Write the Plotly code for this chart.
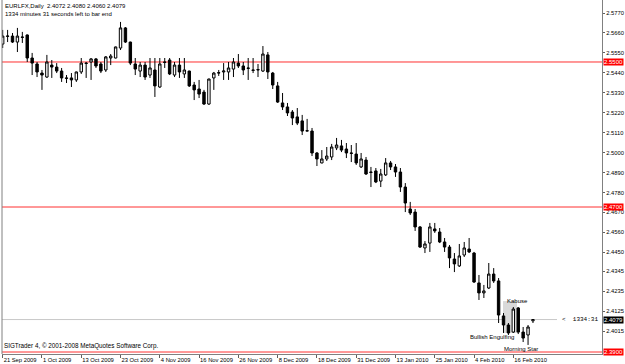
import plotly.graph_objects as go
import pandas as pd

# ---- data ----
symbol_line = "EURLFX,Daily  2.4072 2.4080 2.4060 2.4079"
timer_line = "1334 minutes 31 seconds left to bar end"
copyright_line = "SIGTrader 4, \u00a9 2001-2008 MetaQuotes Software Corp."

holidays = ["2009-12-25", "2010-01-01"]
dates = [d for d in pd.bdate_range("2009-09-21", "2010-02-22") if d.strftime("%Y-%m-%d") not in holidays]
date_keys = [d.strftime("%Y-%m-%d") for d in dates]

opens = [2.5599, 2.5641, 2.5643, 2.5610, 2.5638, 2.5649, 2.5522, 2.5489, 2.5439, 2.5417,
         2.5483, 2.5472, 2.5450, 2.5412, 2.5412, 2.5401, 2.5445, 2.5494, 2.5500, 2.5517,
         2.5489, 2.5456, 2.5522, 2.5522, 2.5577, 2.5688, 2.5610, 2.5489, 2.5450, 2.5483,
         2.5428, 2.5456, 2.5362, 2.5500, 2.5511, 2.5428, 2.5483, 2.5434, 2.5450, 2.5373,
         2.5351, 2.5334, 2.5268, 2.5412, 2.5439, 2.5445, 2.5445, 2.5461, 2.5494, 2.5478,
         2.5467, 2.5456, 2.5456, 2.5450, 2.5539, 2.5439, 2.5368, 2.5274, 2.5252, 2.5224,
         2.5197, 2.5175, 2.5119, 2.5119, 2.4998, 2.4943, 2.4965, 2.4976, 2.5026, 2.5037,
         2.5020, 2.4998, 2.4992, 2.4921, 2.4959, 2.4893, 2.4899, 2.4843, 2.4877, 2.4943,
         2.4921, 2.4893, 2.4810, 2.4689, 2.4672, 2.4590, 2.4474, 2.4501, 2.4579, 2.4562,
         2.4507, 2.4479, 2.4413, 2.4375, 2.4435, 2.4468, 2.4446, 2.4281, 2.4226, 2.4253,
         2.4330, 2.4292, 2.4099, 2.4049, 2.4010, 2.4143, 2.4010, 2.3994, 2.4072]
highs = [2.5677, 2.5677, 2.5660, 2.5688, 2.5666, 2.5652, 2.5550, 2.5500, 2.5456, 2.5539,
         2.5511, 2.5494, 2.5467, 2.5428, 2.5439, 2.5447, 2.5522, 2.5500, 2.5522, 2.5522,
         2.5500, 2.5533, 2.5544, 2.5585, 2.5721, 2.5693, 2.5612, 2.5522, 2.5500, 2.5500,
         2.5522, 2.5522, 2.5522, 2.5522, 2.5522, 2.5500, 2.5522, 2.5522, 2.5452, 2.5390,
         2.5401, 2.5346, 2.5408, 2.5445, 2.5456, 2.5494, 2.5500, 2.5522, 2.5544, 2.5500,
         2.5522, 2.5522, 2.5489, 2.5588, 2.5555, 2.5445, 2.5390, 2.5329, 2.5274, 2.5235,
         2.5246, 2.5208, 2.5186, 2.5136, 2.5003, 2.5014, 2.5031, 2.5048, 2.5081, 2.5070,
         2.5053, 2.5042, 2.5053, 2.4998, 2.4976, 2.4921, 2.4915, 2.4910, 2.4970, 2.4954,
         2.4937, 2.4915, 2.4832, 2.4728, 2.4689, 2.4595, 2.4512, 2.4612, 2.4612, 2.4584,
         2.4529, 2.4490, 2.4446, 2.4496, 2.4507, 2.4529, 2.4452, 2.4325, 2.4270, 2.4391,
         2.4363, 2.4308, 2.4115, 2.4060, 2.4148, 2.4148, 2.4038, 2.4049, 2.4080]
lows = [2.5577, 2.5610, 2.5605, 2.5555, 2.5605, 2.5500, 2.5428, 2.5417, 2.5346, 2.5412,
        2.5412, 2.5439, 2.5390, 2.5384, 2.5362, 2.5390, 2.5434, 2.5412, 2.5401, 2.5467,
        2.5439, 2.5445, 2.5483, 2.5520, 2.5566, 2.5605, 2.5483, 2.5428, 2.5417, 2.5401,
        2.5412, 2.5307, 2.5357, 2.5467, 2.5428, 2.5417, 2.5412, 2.5412, 2.5362, 2.5290,
        2.5301, 2.5263, 2.5263, 2.5346, 2.5423, 2.5401, 2.5401, 2.5417, 2.5467, 2.5428,
        2.5401, 2.5439, 2.5417, 2.5445, 2.5406, 2.5351, 2.5274, 2.5235, 2.5202, 2.5152,
        2.5152, 2.5097, 2.5117, 2.4981, 2.4926, 2.4941, 2.4954, 2.4959, 2.5014, 2.5003,
        2.4970, 2.4948, 2.4932, 2.4915, 2.4877, 2.4810, 2.4832, 2.4810, 2.4871, 2.4904,
        2.4866, 2.4783, 2.4672, 2.4656, 2.4568, 2.4474, 2.4446, 2.4452, 2.4557, 2.4501,
        2.4452, 2.4363, 2.4341, 2.4369, 2.4424, 2.4446, 2.4281, 2.4187, 2.4198, 2.4248,
        2.4281, 2.4060, 2.4005, 2.3994, 2.4005, 2.3999, 2.3955, 2.3939, 2.4060]
closes = [2.5643, 2.5643, 2.5610, 2.5643, 2.5636, 2.5522, 2.5494, 2.5445, 2.5428, 2.5500,
          2.5472, 2.5450, 2.5412, 2.5410, 2.5401, 2.5445, 2.5494, 2.5492, 2.5517, 2.5478,
          2.5450, 2.5528, 2.5533, 2.5583, 2.5688, 2.5610, 2.5494, 2.5461, 2.5483, 2.5417,
          2.5467, 2.5368, 2.5489, 2.5498, 2.5434, 2.5483, 2.5445, 2.5456, 2.5368, 2.5346,
          2.5323, 2.5268, 2.5406, 2.5439, 2.5441, 2.5450, 2.5467, 2.5500, 2.5478, 2.5456,
          2.5465, 2.5454, 2.5458, 2.5544, 2.5445, 2.5373, 2.5279, 2.5252, 2.5219, 2.5191,
          2.5163, 2.5119, 2.5121, 2.4998, 2.4965, 2.4965, 2.4981, 2.5031, 2.5042, 2.5014,
          2.4998, 2.4996, 2.4943, 2.4965, 2.4882, 2.4891, 2.4838, 2.4882, 2.4943, 2.4921,
          2.4893, 2.4810, 2.4722, 2.4667, 2.4590, 2.4479, 2.4496, 2.4590, 2.4568, 2.4507,
          2.4479, 2.4419, 2.4386, 2.4430, 2.4474, 2.4452, 2.4286, 2.4226, 2.4237, 2.4330,
          2.4292, 2.4104, 2.4049, 2.4005, 2.4137, 2.4010, 2.3977, 2.4038, 2.4079]

price_ticks = [2.5770, 2.5660, 2.5550, 2.5440, 2.5330, 2.5220, 2.5110, 2.5000, 2.4890,
               2.4780, 2.4670, 2.4560, 2.4450, 2.4345, 2.4235, 2.4125, 2.4015]
level_lines = [2.5500, 2.4700, 2.3900]
bid_price = 2.4079
bar_timer = "<  1334:31"

# pattern labels: (text, bar position, price)
patterns = [("Kabuse", 104.75, 2.4183),
            ("Bullish Engulfing", 99.66, 2.3983),
            ("Morning Star", 105.6, 2.3917)]
highlight = dict(x0=101.9, x1=104.75, y0=2.4005, y1=2.4181)

date_ticks = date_keys[::8]
date_ticktext = [f"{d.day} {d.strftime('%b %Y')}" for d in dates[::8]]

# ---- figure ----
W, H = 625, 364
ML, MR, MT, MB = 2, 23, 0, 10
FONT = "Liberation Sans"

fig = go.Figure()
fig.add_trace(go.Candlestick(
    x=date_keys, open=opens, high=highs, low=lows, close=closes,
    increasing=dict(line=dict(color="black", width=1), fillcolor="white"),
    decreasing=dict(line=dict(color="black", width=1), fillcolor="black"),
    whiskerwidth=0, hoverinfo="skip", showlegend=False,
))

shapes = []
shapes.append(dict(type="rect", xref="x", yref="y", layer="below",
                   x0=highlight["x0"], x1=highlight["x1"], y0=highlight["y0"], y1=highlight["y1"],
                   fillcolor="#d9d9d9", line=dict(width=0)))
for lv in level_lines:
    shapes.append(dict(type="line", xref="paper", yref="y", x0=0, x1=1, y0=lv, y1=lv,
                       line=dict(color="#ff3030", width=1), layer="below"))
shapes.append(dict(type="line", xref="paper", yref="y", x0=0, x1=0.925, y0=bid_price, y1=bid_price,
                   line=dict(color="#c8c8c8", width=1), layer="below"))
# left border
shapes.append(dict(type="line", xref="paper", yref="paper", x0=0, x1=0, y0=0, y1=1,
                   line=dict(color="#808080", width=1)))

annotations = []
annotations.append(dict(text=symbol_line, xref="paper", yref="paper", x=0.002, y=1.0,
                        xanchor="left", yanchor="top", yshift=-1, showarrow=False,
                        font=dict(family=FONT, size=6, color="black")))
annotations.append(dict(text=timer_line, xref="paper", yref="paper", x=0.002, y=1.0,
                        xanchor="left", yanchor="top", yshift=-9, showarrow=False,
                        font=dict(family=FONT, size=6, color="black")))
annotations.append(dict(text=copyright_line, xref="paper", yref="paper", x=0.0, y=0.0,
                        xanchor="left", yanchor="bottom", yshift=2, showarrow=False,
                        font=dict(family=FONT, size=6.3, color="black")))
for lv in level_lines:
    annotations.append(dict(text=f"{lv:.4f}", xref="paper", yref="y", x=1.0, y=lv,
                            xanchor="left", yanchor="middle", xshift=1, showarrow=False,
                            bgcolor="#ff0000", borderpad=0,
                            font=dict(family=FONT, size=6, color="white")))
annotations.append(dict(text=f"{bid_price:.4f}", xref="paper", yref="y", x=1.0, y=bid_price,
                        xanchor="left", yanchor="middle", xshift=1, showarrow=False,
                        bgcolor="black", borderpad=0,
                        font=dict(family=FONT, size=6, color="white")))
annotations.append(dict(text=bar_timer, xref="paper", yref="y", x=0.93, y=bid_price,
                        xanchor="left", yanchor="middle", showarrow=False,
                        font=dict(family="Liberation Mono", size=6, color="black")))
for txt, xp, yp in patterns:
    annotations.append(dict(text=txt, xref="x", yref="y", x=xp, y=yp,
                            xanchor="center", yanchor="middle", showarrow=False,
                            font=dict(family=FONT, size=6, color="black")))

fig.update_layout(
    width=W, height=H, margin=dict(l=ML, r=MR, t=MT, b=MB, autoexpand=False),
    paper_bgcolor="white", plot_bgcolor="white",
    shapes=shapes, annotations=annotations,
    font=dict(family=FONT, size=6, color="black"),
    xaxis=dict(type="category", range=[-0.14, 122.06], rangeslider=dict(visible=False),
               tickmode="array", tickvals=date_ticks, ticktext=date_ticktext,
               tickangle=0, automargin=False,
               ticks="outside", ticklen=3, tickcolor="#606060",
               ticklabelposition="outside right",
               showline=True, linecolor="#808080", linewidth=1, mirror=False,
               showgrid=False, zeroline=False,
               tickfont=dict(family=FONT, size=5.8, color="black")),
    yaxis=dict(side="right", range=[2.3889, 2.5842], tickmode="array",
               tickvals=price_ticks, ticktext=[f"{v:.4f}" for v in price_ticks],
               ticks="outside", ticklen=2, tickcolor="#606060", automargin=False,
               showline=True, linecolor="#808080", linewidth=1,
               showgrid=False, zeroline=False,
               tickfont=dict(family=FONT, size=5.8, color="black")),
)

fig.write_html("out.html")
